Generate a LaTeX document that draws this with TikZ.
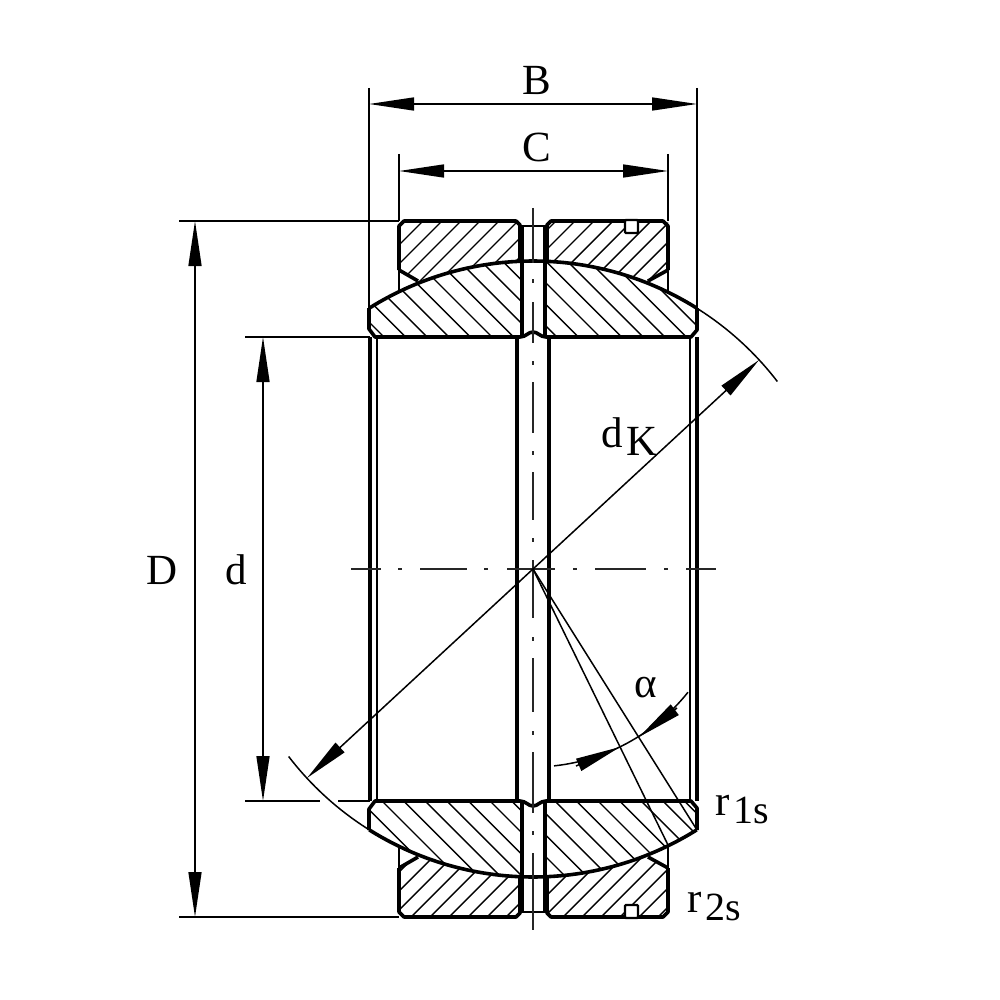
\documentclass[tikz,border=0pt]{standalone}
\usepackage{fontspec}
\setmainfont{Liberation Serif}
\usetikzlibrary{arrows.meta}

\tikzset{
  thickline/.style={line width=3.6pt,line join=round},
  medline/.style={line width=2.4pt},
  hatchline/.style={line width=1.4pt},
  thinline/.style={line width=1.5pt},
  centerline/.style={line width=1.8pt,black!85},
  dimarrow/.style={line width=1.5pt,{Triangle[length=45pt,width=13pt]}-{Triangle[length=45pt,width=13pt]}},
  endarrow/.style={line width=1.5pt,-{Triangle[length=45pt,width=13pt]}},
  dimlabel/.style={inner sep=0pt,font=\fontsize{43}{43}\selectfont}
}
\newcommand{\spherearc}[2]{plot[domain=#1:#2,samples=60] ({533+308*cos(\x)},{569+308*sin(\x)})}
\newcommand{\alphaarc}[2]{plot[domain=#1:#2,samples=30] ({533+198*cos(\x)},{569+198*sin(\x)})}
\newcommand{\sublow}[1]{\kern4pt\raisebox{-8pt}{#1}}

\begin{document}
\begin{tikzpicture}[x=1pt,y=-1pt]
      \useasboundingbox (0,0) rectangle (1000,1000);

      % hatching of the outer ring
      \begin{scope}[even odd rule]
        \clip (399,221) -- (520,221) -- (520,300) -- (420,300) -- (418,281) -- (399,270) -- cycle
              (547,221) -- (668,221) -- (668,270) -- (648,281) -- (648,300) -- (547,300) -- cycle
              (399,917) -- (520,917) -- (520,838) -- (420,838) -- (418,857) -- (399,868) -- cycle
              (547,917) -- (668,917) -- (668,868) -- (648,857) -- (648,838) -- (547,838) -- cycle;
        \clip (0,0) rectangle (1000,1000) (533,569) circle[radius=308pt];
        \foreach \k in {-2,...,18}
          \draw[hatchline] ({644+19*\k-200},200) -- ({644+19*\k-400},400);
        \foreach \k in {32,...,50}
          \draw[hatchline] ({644+19*\k-800},800) -- ({644+19*\k-950},950);
      \end{scope}

      % hatching of the inner ring
      \begin{scope}
        \clip (369,250) rectangle (520,337) (546,250) rectangle (697,337)
              (369,801) rectangle (520,890) (546,801) rectangle (697,890);
        \clip (533,569) circle[radius=308pt];
        \foreach \k in {-1,...,19}
          \draw[hatchline] ({47+21.6*\k+240},240) -- ({47+21.6*\k+340},340);
        \foreach \k in {-6,...,16}
          \draw[hatchline] ({-419+21.6*\k+790},790) -- ({-419+21.6*\k+890},890);
      \end{scope}

      % section outline, upper half and its mirror image
      \foreach \sc/\sh in {1/0,-1/1138}{
        \begin{scope}[shift={(0,\sh)},yscale=\sc]
          \draw[thickline] (399,270) -- (399,226) -- (404,221) -- (516,221) -- (520,225) -- (520,262);
          \draw[thickline] (547,262) -- (547,225) -- (551,221) -- (663,221) -- (668,226) -- (668,270);
          \draw[thickline] (399,270) -- (418,281);
          \draw[thickline] (668,270) -- (648,281);
          \draw[medline] (399,270) -- (399,292);
          \draw[medline] (668,270) -- (668,292);
          \draw[medline,fill=white,rounded corners=1pt] (625,220) rectangle (638,233);
          \draw[thickline] \spherearc{-122.1}{-57.9};
          \draw[thickline] (369,308) -- (369,329) -- (375,337) -- (520,337)
            .. controls (526,337) and (528,332) .. (533,332)
            .. controls (538,332) and (540,337) .. (546,337)
            -- (691,337) -- (697,330) -- (697,308);
          \draw[medline] (522,226) -- (545,226);
          \draw[thickline] (522,226) -- (522,335);
          \draw[thickline] (545,226) -- (545,335);
        \end{scope}
      }

      % bore
      \draw[thickline] (370,337) -- (370,801);
      \draw[medline] (377,337) -- (377,801);
      \draw[thickline] (517,337) -- (517,801);
      \draw[thickline] (549,337) -- (549,801);
      \draw[medline] (690,337) -- (690,801);
      \draw[thickline] (697,337) -- (697,801);

      % centre lines
      \foreach \a/\b in {351/381,398/402,420/467,484/488,507/555,573/577,595/646,664/668,686/716}
        \draw[centerline] (\a,569) -- (\b,569);
      \foreach \a/\b in {208/263,279/283,302/343,361/365,382/433,451/455,472/520,538/542,560/618,
                         637/641,658/712,731/735,752/813,831/835,853/930}
        \draw[centerline] (533,\a) -- (533,\b);

      % dimension points
      \coordinate (centre) at (533,569);
      \coordinate (Bleft) at (369,104);
      \coordinate (Bright) at (697,104);
      \coordinate (BleftTop) at (369,88);
      \coordinate (BrightTop) at (697,88);
      \coordinate (BleftEnd) at (369,310);
      \coordinate (BrightEnd) at (697,310);
      \coordinate (Cleft) at (399,171);
      \coordinate (Cright) at (668,171);
      \coordinate (CleftTop) at (399,154);
      \coordinate (CrightTop) at (668,154);
      \coordinate (CleftEnd) at (399,221);
      \coordinate (CrightEnd) at (668,221);
      \coordinate (Dtop) at (195,221);
      \coordinate (Dbottom) at (195,917);
      \coordinate (DtopOut) at (179,221);
      \coordinate (DbottomOut) at (179,917);
      \coordinate (DbottomEnd) at (399,917);
      \coordinate (dtop) at (263,337);
      \coordinate (dbottom) at (263,801);
      \coordinate (dtopOut) at (245,337);
      \coordinate (dbottomOut) at (245,801);
      \coordinate (dtopEnd) at (370,337);
      \coordinate (dbottomGapA) at (320,801);
      \coordinate (dbottomGapB) at (338,801);
      \coordinate (dbottomEnd) at (370,801);
      \coordinate (dKlow) at (307,778);
      \coordinate (dKhigh) at (759,360);
      \coordinate (rayA) at (668,845);
      \coordinate (rayB) at (697,830);

      \draw[thinline] (BleftTop) -- (BleftEnd);
      \draw[thinline] (BrightTop) -- (BrightEnd);
      \draw[thinline] (CleftTop) -- (CleftEnd);
      \draw[thinline] (CrightTop) -- (CrightEnd);
      \draw[thinline] (DtopOut) -- (CleftEnd);
      \draw[thinline] (DbottomOut) -- (DbottomEnd);
      \draw[thinline] (dtopOut) -- (dtopEnd);
      \draw[thinline] (dbottomOut) -- (dbottomGapA);
      \draw[thinline] (dbottomGapB) -- (dbottomEnd);

      \draw[dimarrow] (Bleft) -- (Bright);
      \draw[dimarrow] (Cleft) -- (Cright);
      \draw[dimarrow] (Dtop) -- (Dbottom);
      \draw[dimarrow] (dtop) -- (dbottom);
      \draw[dimarrow] (dKlow) -- (dKhigh);

      % extension of the spherical surface
      \draw[thinline] \spherearc{-57.9}{-37.5};
      \draw[thinline] \spherearc{122.1}{142.5};

      % angle alpha
      \draw[thinline] (centre) -- (rayA);
      \draw[thinline] (centre) -- (rayB);
      \draw[thinline] \alphaarc{83.9}{38.5};
      \coordinate (alphaTailA) at (576,766);
      \coordinate (alphaTipA) at (620,747);
      \coordinate (alphaTailB) at (677,708);
      \coordinate (alphaTipB) at (639,737);
      \draw[endarrow] (alphaTailA) -- (alphaTipA);
      \draw[endarrow] (alphaTailB) -- (alphaTipB);

      % labels
      \node[dimlabel] (labB) at (537,80) {B};
      \node[dimlabel] (labC) at (537,147) {C};
      \node[dimlabel] (labD) at (162,570) {D};
      \node[dimlabel] (labd) at (236,570) {d};
      \node[dimlabel,anchor=base west] (labdK) at (601,447) {d\sublow{K}};
      \node[dimlabel] (labalpha) at (646,688) {α};
      \node[dimlabel,anchor=base west] (labr1) at (715,815) {r\sublow{\fontsize{40}{40}\selectfont 1s}};
      \node[dimlabel,anchor=base west] (labr2) at (687,912) {r\sublow{\fontsize{40}{40}\selectfont 2s}};
    \end{tikzpicture}
\end{document}
